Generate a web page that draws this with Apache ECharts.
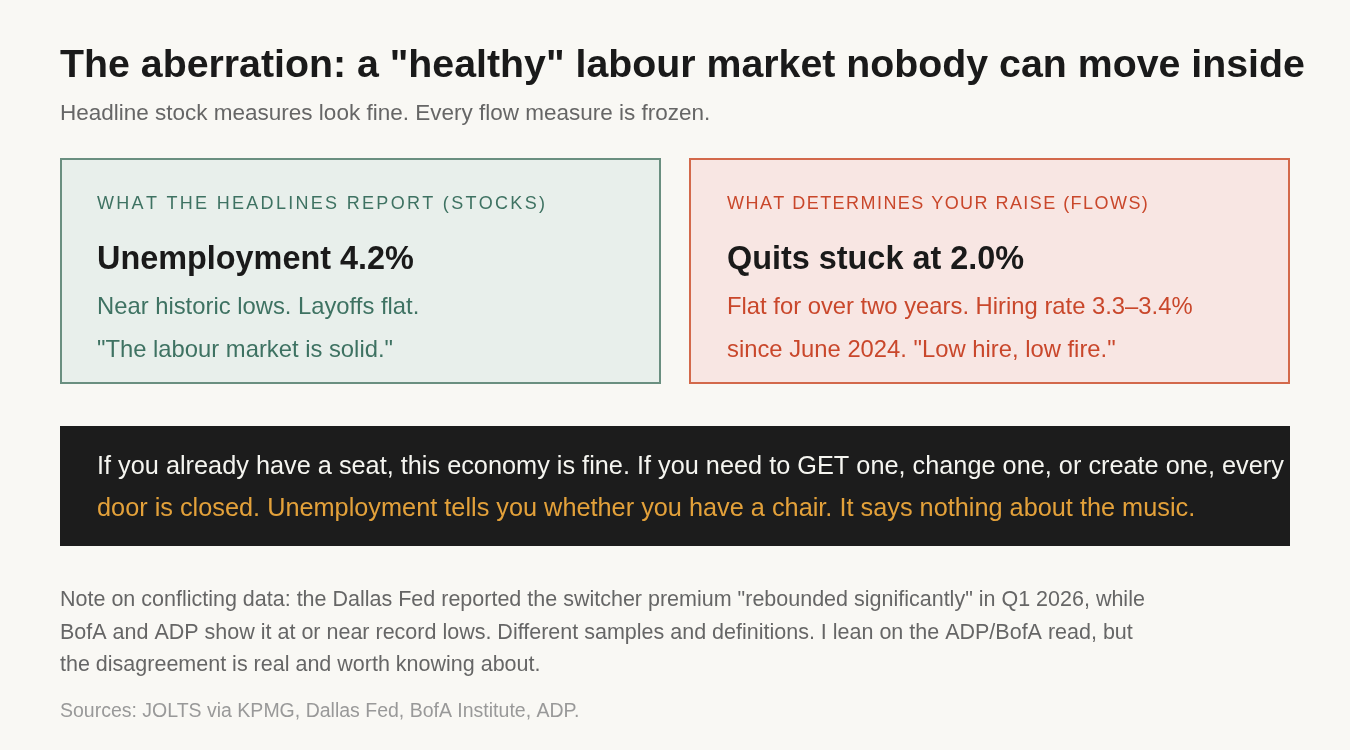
<!DOCTYPE html>
<html><head><meta charset="utf-8">
<script src="https://cdn.jsdelivr.net/npm/echarts@6/dist/echarts.min.js"></script>
<style>html,body{margin:0;padding:0;background:#f9f8f4;}#c{width:1350px;height:750px;}</style>
</head><body><div id="c"></div>
<script>
const titleText = 'The aberration: a "healthy" labour market nobody can move inside';
const subtitleText = 'Headline stock measures look fine. Every flow measure is frozen.';
const leftLabel = 'WHAT THE HEADLINES REPORT (STOCKS)';
const leftHeading = 'Unemployment 4.2%';
const leftLines = ['Near historic lows. Layoffs flat.', '"The labour market is solid."'];
const rightLabel = 'WHAT DETERMINES YOUR RAISE (FLOWS)';
const rightHeading = 'Quits stuck at 2.0%';
const rightLines = ['Flat for over two years. Hiring rate 3.3\u20133.4%', 'since June 2024. "Low hire, low fire."'];
const calloutLines = ['If you already have a seat, this economy is fine. If you need to GET one, change one, or create one, every',
  'door is closed. Unemployment tells you whether you have a chair. It says nothing about the music.'];
const noteLines = ['Note on conflicting data: the Dallas Fed reported the switcher premium "rebounded significantly" in Q1 2026, while',
  'BofA and ADP show it at or near record lows. Different samples and definitions. I lean on the ADP/BofA read, but',
  'the disagreement is real and worth knowing about.'];
const sourcesText = 'Sources: JOLTS via KPMG, Dallas Fed, BofA Institute, ADP.';

const FF = '"Liberation Sans", Arial, Helvetica, sans-serif';
const mc = document.createElement('canvas').getContext('2d');
function spaced(str, x, mid, size, color, ls) {
  mc.font = size + 'px ' + FF;
  const out = [];
  let cx = x;
  for (const ch of str) {
    out.push({type:'text', x: cx, y: mid, style:{text: ch, x:0, y:0, fill: color, font: size + 'px ' + FF, textVerticalAlign:'middle'}});
    cx += mc.measureText(ch).width + ls;
  }
  return out;
}
function txt(str, x, mid, size, color, bold) {
  return {type:'text', x:x, y: mid, style:{text:str, x:0, y:0, fill:color, font:(bold?'bold ':'') + size + 'px ' + FF, textVerticalAlign:'middle'}};
}
function rect(x, y, w, h, fill, stroke) {
  return {type:'rect', shape:{x:x, y:y, width:w, height:h}, style:{fill:fill, stroke:stroke || null, lineWidth: stroke ? 2 : 0}};
}

const G = '#3e7262', R = '#c9472b';
const els = [];
els.push(txt(titleText, 60, 66.4, 39.3, '#1a1a1a', true));
els.push(txt(subtitleText, 60, 113.7, 22.5, '#666666', false));
// left card
els.push(rect(61, 159, 599, 224, '#e8efeb', '#6a8f80'));
els.push(...spaced(leftLabel, 97, 203.8, 18, G, 2.3));
els.push(txt(leftHeading, 97, 260.3, 32.4, '#1a1a1a', true));
leftLines.forEach((l, i) => els.push(txt(l, 97, 307.3 + i * 43, 23.8, G, false)));
// right card
els.push(rect(690, 159, 599, 224, '#f8e6e3', '#d3694b'));
els.push(...spaced(rightLabel, 727, 203.8, 18, R, 1.45));
els.push(txt(rightHeading, 727, 260.3, 32.4, '#1a1a1a', true));
rightLines.forEach((l, i) => els.push(txt(l, 727, 307.3 + i * 43, 23.8, R, false)));
// callout
els.push(rect(60, 426, 1230, 120, '#1c1c1c'));
els.push(txt(calloutLines[0], 97, 467.2, 25.3, '#f5f5f0', false));
els.push(txt(calloutLines[1], 97, 508.7, 25.3, '#e3a13a', false));
// note
noteLines.forEach((l, i) => els.push(txt(l, 60, 600.0 + i * 32.6, 21.5, '#666666', false)));
els.push(txt(sourcesText, 60, 711.8, 19.5, '#999999', false));

const chart = echarts.init(document.getElementById('c'));
chart.setOption({backgroundColor:'#f9f8f4', animation:false, graphic:{elements: els}});
</script></body></html>
